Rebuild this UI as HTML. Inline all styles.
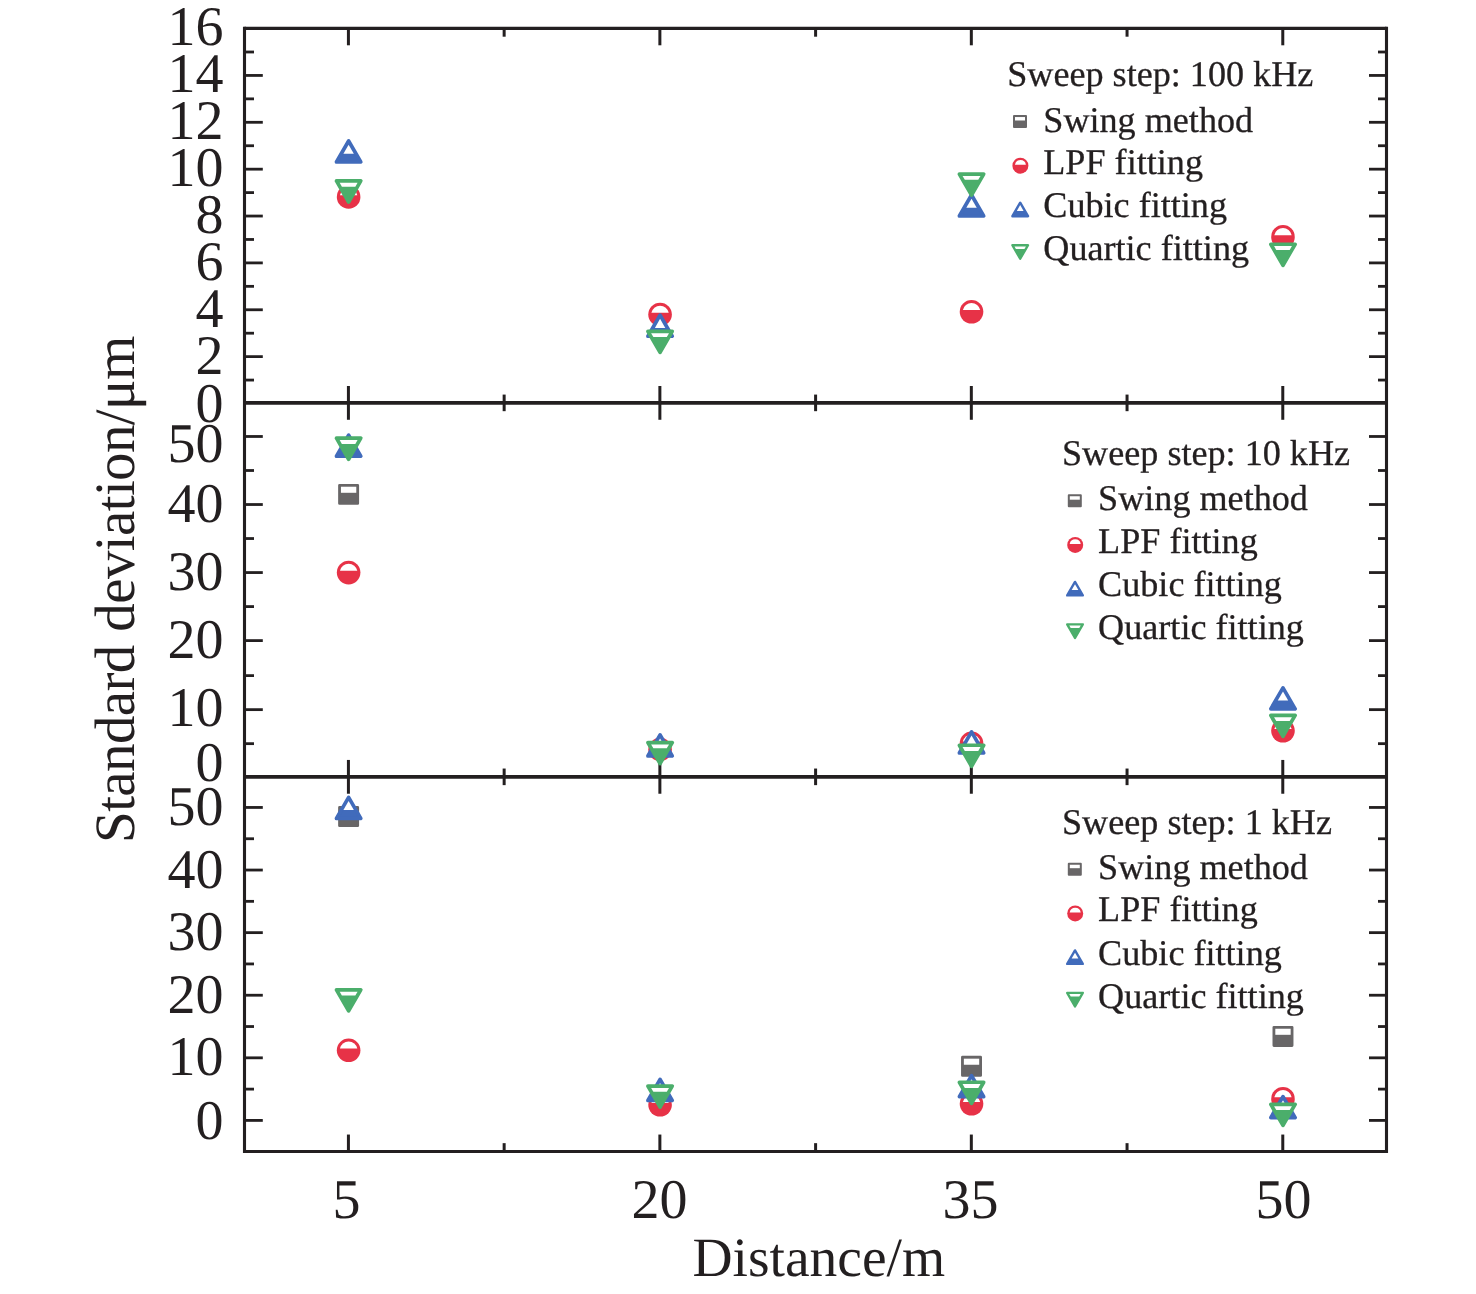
<!DOCTYPE html>
<html lang="en">
<head>
<meta charset="utf-8">
<title>Standard deviation versus distance</title>
<style>
html,body{margin:0;padding:0;background:#fff;}
body{width:1476px;height:1294px;overflow:hidden;}
svg{display:block;will-change:transform;text-rendering:geometricPrecision;font-family:"Liberation Serif",serif;}
.lg{stroke:#231f20;stroke-width:0.3px;stroke-linejoin:round;}
</style>
</head>
<body>
<svg width="1476" height="1294" viewBox="0 0 1476 1294">
<rect width="1476" height="1294" fill="#fff"/>
<g stroke="#231f20" fill="none" stroke-linecap="butt">
<line x1="244.50" y1="26.85" x2="244.50" y2="1153.00" stroke-width="3.1"/>
<line x1="1386.50" y1="26.85" x2="1386.50" y2="1153.00" stroke-width="3.1"/>
<line x1="244.50" y1="28.40" x2="1386.50" y2="28.40" stroke-width="3.1"/>
<line x1="244.50" y1="1151.45" x2="1386.50" y2="1151.45" stroke-width="3.1"/>
<line x1="244.50" y1="402.88" x2="1386.50" y2="402.88" stroke-width="3.92"/>
<line x1="244.50" y1="776.84" x2="1386.50" y2="776.84" stroke-width="3.92"/>
<line x1="348.42" y1="28.40" x2="348.42" y2="45.30" stroke-width="3.0"/>
<line x1="348.42" y1="402.88" x2="348.42" y2="385.98" stroke-width="3.0"/>
<line x1="659.87" y1="28.40" x2="659.87" y2="45.30" stroke-width="3.0"/>
<line x1="659.87" y1="402.88" x2="659.87" y2="385.98" stroke-width="3.0"/>
<line x1="971.33" y1="28.40" x2="971.33" y2="45.30" stroke-width="3.0"/>
<line x1="971.33" y1="402.88" x2="971.33" y2="385.98" stroke-width="3.0"/>
<line x1="1282.78" y1="28.40" x2="1282.78" y2="45.30" stroke-width="3.0"/>
<line x1="1282.78" y1="402.88" x2="1282.78" y2="385.98" stroke-width="3.0"/>
<line x1="504.15" y1="28.40" x2="504.15" y2="36.70" stroke-width="3.0"/>
<line x1="504.15" y1="402.88" x2="504.15" y2="394.58" stroke-width="3.0"/>
<line x1="815.60" y1="28.40" x2="815.60" y2="36.70" stroke-width="3.0"/>
<line x1="815.60" y1="402.88" x2="815.60" y2="394.58" stroke-width="3.0"/>
<line x1="1127.05" y1="28.40" x2="1127.05" y2="36.70" stroke-width="3.0"/>
<line x1="1127.05" y1="402.88" x2="1127.05" y2="394.58" stroke-width="3.0"/>
<line x1="348.42" y1="402.88" x2="348.42" y2="419.78" stroke-width="3.0"/>
<line x1="348.42" y1="776.84" x2="348.42" y2="759.94" stroke-width="3.0"/>
<line x1="659.87" y1="402.88" x2="659.87" y2="419.78" stroke-width="3.0"/>
<line x1="659.87" y1="776.84" x2="659.87" y2="759.94" stroke-width="3.0"/>
<line x1="971.33" y1="402.88" x2="971.33" y2="419.78" stroke-width="3.0"/>
<line x1="971.33" y1="776.84" x2="971.33" y2="759.94" stroke-width="3.0"/>
<line x1="1282.78" y1="402.88" x2="1282.78" y2="419.78" stroke-width="3.0"/>
<line x1="1282.78" y1="776.84" x2="1282.78" y2="759.94" stroke-width="3.0"/>
<line x1="504.15" y1="402.88" x2="504.15" y2="411.18" stroke-width="3.0"/>
<line x1="504.15" y1="776.84" x2="504.15" y2="768.54" stroke-width="3.0"/>
<line x1="815.60" y1="402.88" x2="815.60" y2="411.18" stroke-width="3.0"/>
<line x1="815.60" y1="776.84" x2="815.60" y2="768.54" stroke-width="3.0"/>
<line x1="1127.05" y1="402.88" x2="1127.05" y2="411.18" stroke-width="3.0"/>
<line x1="1127.05" y1="776.84" x2="1127.05" y2="768.54" stroke-width="3.0"/>
<line x1="348.42" y1="776.84" x2="348.42" y2="793.74" stroke-width="3.0"/>
<line x1="348.42" y1="1151.45" x2="348.42" y2="1134.55" stroke-width="3.0"/>
<line x1="659.87" y1="776.84" x2="659.87" y2="793.74" stroke-width="3.0"/>
<line x1="659.87" y1="1151.45" x2="659.87" y2="1134.55" stroke-width="3.0"/>
<line x1="971.33" y1="776.84" x2="971.33" y2="793.74" stroke-width="3.0"/>
<line x1="971.33" y1="1151.45" x2="971.33" y2="1134.55" stroke-width="3.0"/>
<line x1="1282.78" y1="776.84" x2="1282.78" y2="793.74" stroke-width="3.0"/>
<line x1="1282.78" y1="1151.45" x2="1282.78" y2="1134.55" stroke-width="3.0"/>
<line x1="504.15" y1="776.84" x2="504.15" y2="785.14" stroke-width="3.0"/>
<line x1="504.15" y1="1151.45" x2="504.15" y2="1143.15" stroke-width="3.0"/>
<line x1="815.60" y1="776.84" x2="815.60" y2="785.14" stroke-width="3.0"/>
<line x1="815.60" y1="1151.45" x2="815.60" y2="1143.15" stroke-width="3.0"/>
<line x1="1127.05" y1="776.84" x2="1127.05" y2="785.14" stroke-width="3.0"/>
<line x1="1127.05" y1="1151.45" x2="1127.05" y2="1143.15" stroke-width="3.0"/>
<line x1="244.50" y1="356.63" x2="262.80" y2="356.63" stroke-width="2.8"/>
<line x1="1386.50" y1="356.63" x2="1369.00" y2="356.63" stroke-width="2.8"/>
<line x1="244.50" y1="309.77" x2="262.80" y2="309.77" stroke-width="2.8"/>
<line x1="1386.50" y1="309.77" x2="1369.00" y2="309.77" stroke-width="2.8"/>
<line x1="244.50" y1="262.90" x2="262.80" y2="262.90" stroke-width="2.8"/>
<line x1="1386.50" y1="262.90" x2="1369.00" y2="262.90" stroke-width="2.8"/>
<line x1="244.50" y1="216.04" x2="262.80" y2="216.04" stroke-width="2.8"/>
<line x1="1386.50" y1="216.04" x2="1369.00" y2="216.04" stroke-width="2.8"/>
<line x1="244.50" y1="169.17" x2="262.80" y2="169.17" stroke-width="2.8"/>
<line x1="1386.50" y1="169.17" x2="1369.00" y2="169.17" stroke-width="2.8"/>
<line x1="244.50" y1="122.30" x2="262.80" y2="122.30" stroke-width="2.8"/>
<line x1="1386.50" y1="122.30" x2="1369.00" y2="122.30" stroke-width="2.8"/>
<line x1="244.50" y1="75.44" x2="262.80" y2="75.44" stroke-width="2.8"/>
<line x1="1386.50" y1="75.44" x2="1369.00" y2="75.44" stroke-width="2.8"/>
<line x1="244.50" y1="380.07" x2="254.00" y2="380.07" stroke-width="2.8"/>
<line x1="1386.50" y1="380.07" x2="1378.00" y2="380.07" stroke-width="2.8"/>
<line x1="244.50" y1="333.20" x2="254.00" y2="333.20" stroke-width="2.8"/>
<line x1="1386.50" y1="333.20" x2="1378.00" y2="333.20" stroke-width="2.8"/>
<line x1="244.50" y1="286.34" x2="254.00" y2="286.34" stroke-width="2.8"/>
<line x1="1386.50" y1="286.34" x2="1378.00" y2="286.34" stroke-width="2.8"/>
<line x1="244.50" y1="239.47" x2="254.00" y2="239.47" stroke-width="2.8"/>
<line x1="1386.50" y1="239.47" x2="1378.00" y2="239.47" stroke-width="2.8"/>
<line x1="244.50" y1="192.60" x2="254.00" y2="192.60" stroke-width="2.8"/>
<line x1="1386.50" y1="192.60" x2="1378.00" y2="192.60" stroke-width="2.8"/>
<line x1="244.50" y1="145.74" x2="254.00" y2="145.74" stroke-width="2.8"/>
<line x1="1386.50" y1="145.74" x2="1378.00" y2="145.74" stroke-width="2.8"/>
<line x1="244.50" y1="98.87" x2="254.00" y2="98.87" stroke-width="2.8"/>
<line x1="1386.50" y1="98.87" x2="1378.00" y2="98.87" stroke-width="2.8"/>
<line x1="244.50" y1="52.00" x2="254.00" y2="52.00" stroke-width="2.8"/>
<line x1="1386.50" y1="52.00" x2="1378.00" y2="52.00" stroke-width="2.8"/>
<line x1="244.50" y1="709.64" x2="262.80" y2="709.64" stroke-width="2.8"/>
<line x1="1386.50" y1="709.64" x2="1369.00" y2="709.64" stroke-width="2.8"/>
<line x1="244.50" y1="640.60" x2="262.80" y2="640.60" stroke-width="2.8"/>
<line x1="1386.50" y1="640.60" x2="1369.00" y2="640.60" stroke-width="2.8"/>
<line x1="244.50" y1="572.56" x2="262.80" y2="572.56" stroke-width="2.8"/>
<line x1="1386.50" y1="572.56" x2="1369.00" y2="572.56" stroke-width="2.8"/>
<line x1="244.50" y1="504.52" x2="262.80" y2="504.52" stroke-width="2.8"/>
<line x1="1386.50" y1="504.52" x2="1369.00" y2="504.52" stroke-width="2.8"/>
<line x1="244.50" y1="436.48" x2="262.80" y2="436.48" stroke-width="2.8"/>
<line x1="1386.50" y1="436.48" x2="1369.00" y2="436.48" stroke-width="2.8"/>
<line x1="244.50" y1="743.66" x2="254.00" y2="743.66" stroke-width="2.8"/>
<line x1="1386.50" y1="743.66" x2="1378.00" y2="743.66" stroke-width="2.8"/>
<line x1="244.50" y1="675.62" x2="254.00" y2="675.62" stroke-width="2.8"/>
<line x1="1386.50" y1="675.62" x2="1378.00" y2="675.62" stroke-width="2.8"/>
<line x1="244.50" y1="606.58" x2="254.00" y2="606.58" stroke-width="2.8"/>
<line x1="1386.50" y1="606.58" x2="1378.00" y2="606.58" stroke-width="2.8"/>
<line x1="244.50" y1="538.54" x2="254.00" y2="538.54" stroke-width="2.8"/>
<line x1="1386.50" y1="538.54" x2="1378.00" y2="538.54" stroke-width="2.8"/>
<line x1="244.50" y1="470.50" x2="254.00" y2="470.50" stroke-width="2.8"/>
<line x1="1386.50" y1="470.50" x2="1378.00" y2="470.50" stroke-width="2.8"/>
<line x1="244.50" y1="1120.42" x2="262.80" y2="1120.42" stroke-width="2.8"/>
<line x1="1386.50" y1="1120.42" x2="1369.00" y2="1120.42" stroke-width="2.8"/>
<line x1="244.50" y1="1057.83" x2="262.80" y2="1057.83" stroke-width="2.8"/>
<line x1="1386.50" y1="1057.83" x2="1369.00" y2="1057.83" stroke-width="2.8"/>
<line x1="244.50" y1="995.23" x2="262.80" y2="995.23" stroke-width="2.8"/>
<line x1="1386.50" y1="995.23" x2="1369.00" y2="995.23" stroke-width="2.8"/>
<line x1="244.50" y1="932.64" x2="262.80" y2="932.64" stroke-width="2.8"/>
<line x1="1386.50" y1="932.64" x2="1369.00" y2="932.64" stroke-width="2.8"/>
<line x1="244.50" y1="870.04" x2="262.80" y2="870.04" stroke-width="2.8"/>
<line x1="1386.50" y1="870.04" x2="1369.00" y2="870.04" stroke-width="2.8"/>
<line x1="244.50" y1="807.45" x2="262.80" y2="807.45" stroke-width="2.8"/>
<line x1="1386.50" y1="807.45" x2="1369.00" y2="807.45" stroke-width="2.8"/>
<line x1="244.50" y1="1089.12" x2="254.00" y2="1089.12" stroke-width="2.8"/>
<line x1="1386.50" y1="1089.12" x2="1378.00" y2="1089.12" stroke-width="2.8"/>
<line x1="244.50" y1="1026.53" x2="254.00" y2="1026.53" stroke-width="2.8"/>
<line x1="1386.50" y1="1026.53" x2="1378.00" y2="1026.53" stroke-width="2.8"/>
<line x1="244.50" y1="963.94" x2="254.00" y2="963.94" stroke-width="2.8"/>
<line x1="1386.50" y1="963.94" x2="1378.00" y2="963.94" stroke-width="2.8"/>
<line x1="244.50" y1="901.34" x2="254.00" y2="901.34" stroke-width="2.8"/>
<line x1="1386.50" y1="901.34" x2="1378.00" y2="901.34" stroke-width="2.8"/>
<line x1="244.50" y1="838.75" x2="254.00" y2="838.75" stroke-width="2.8"/>
<line x1="1386.50" y1="838.75" x2="1378.00" y2="838.75" stroke-width="2.8"/>
</g>
<g>
<circle cx="348.62" cy="196.90" r="11.80" fill="#e73247"/>
<path d="M339.94,195.15 A8.85,8.85 0 0 1 357.29,195.15 Z" fill="#fff"/>
<circle cx="660.07" cy="314.50" r="11.80" fill="#e73247"/>
<path d="M651.40,312.75 A8.85,8.85 0 0 1 668.75,312.75 Z" fill="#fff"/>
<circle cx="971.53" cy="311.80" r="11.80" fill="#e73247"/>
<path d="M962.85,310.05 A8.85,8.85 0 0 1 980.20,310.05 Z" fill="#fff"/>
<circle cx="1282.98" cy="236.90" r="11.80" fill="#e73247"/>
<path d="M1274.31,235.15 A8.85,8.85 0 0 1 1291.66,235.15 Z" fill="#fff"/>
<polygon points="348.62,140.97 360.77,162.01 336.47,162.01" fill="#416bbb" stroke="#416bbb" stroke-width="3.7" stroke-linejoin="round"/>
<polygon points="348.62,144.67 353.83,153.70 343.40,153.70" fill="#fff"/>
<polygon points="660.07,315.17 672.22,336.21 647.92,336.21" fill="#416bbb" stroke="#416bbb" stroke-width="3.7" stroke-linejoin="round"/>
<polygon points="660.07,318.87 665.29,327.90 654.86,327.90" fill="#fff"/>
<polygon points="971.53,194.97 983.68,216.01 959.38,216.01" fill="#416bbb" stroke="#416bbb" stroke-width="3.7" stroke-linejoin="round"/>
<polygon points="971.53,198.67 976.74,207.70 966.31,207.70" fill="#fff"/>
<polygon points="348.62,201.98 360.77,180.94 336.47,180.94" fill="#4bae6b" stroke="#4bae6b" stroke-width="3.7" stroke-linejoin="round"/>
<polygon points="339.67,182.79 357.56,182.79 355.33,186.65 341.90,186.65" fill="#fff"/>
<polygon points="660.07,352.43 672.22,331.39 647.92,331.39" fill="#4bae6b" stroke="#4bae6b" stroke-width="3.7" stroke-linejoin="round"/>
<polygon points="651.13,333.24 669.02,333.24 666.79,337.10 653.36,337.10" fill="#fff"/>
<polygon points="971.53,195.13 983.68,174.09 959.38,174.09" fill="#4bae6b" stroke="#4bae6b" stroke-width="3.7" stroke-linejoin="round"/>
<polygon points="962.58,175.94 980.47,175.94 978.24,179.80 964.81,179.80" fill="#fff"/>
<polygon points="1282.98,265.28 1295.13,244.24 1270.83,244.24" fill="#4bae6b" stroke="#4bae6b" stroke-width="3.7" stroke-linejoin="round"/>
<polygon points="1274.04,246.09 1291.93,246.09 1289.70,249.95 1276.27,249.95" fill="#fff"/>
<rect x="339.54" y="485.32" width="18.15" height="18.15" fill="#686667" stroke="#686667" stroke-width="2.8" stroke-linejoin="round"/>
<rect x="340.94" y="486.72" width="15.35" height="6.07" fill="#fff"/>
<circle cx="348.62" cy="572.60" r="11.80" fill="#e73247"/>
<path d="M339.94,570.85 A8.85,8.85 0 0 1 357.29,570.85 Z" fill="#fff"/>
<circle cx="660.07" cy="749.50" r="11.80" fill="#e73247"/>
<path d="M651.40,747.75 A8.85,8.85 0 0 1 668.75,747.75 Z" fill="#fff"/>
<circle cx="971.53" cy="743.30" r="11.80" fill="#e73247"/>
<path d="M962.85,741.55 A8.85,8.85 0 0 1 980.20,741.55 Z" fill="#fff"/>
<circle cx="1282.98" cy="730.80" r="11.80" fill="#e73247"/>
<path d="M1274.31,729.05 A8.85,8.85 0 0 1 1291.66,729.05 Z" fill="#fff"/>
<polygon points="348.62,435.17 360.77,456.21 336.47,456.21" fill="#416bbb" stroke="#416bbb" stroke-width="3.7" stroke-linejoin="round"/>
<polygon points="348.62,438.87 353.83,447.90 343.40,447.90" fill="#fff"/>
<polygon points="660.07,734.87 672.22,755.91 647.92,755.91" fill="#416bbb" stroke="#416bbb" stroke-width="3.7" stroke-linejoin="round"/>
<polygon points="660.07,738.57 665.29,747.60 654.86,747.60" fill="#fff"/>
<polygon points="971.53,731.87 983.68,752.91 959.38,752.91" fill="#416bbb" stroke="#416bbb" stroke-width="3.7" stroke-linejoin="round"/>
<polygon points="971.53,735.57 976.74,744.60 966.31,744.60" fill="#fff"/>
<polygon points="1282.98,687.82 1295.13,708.86 1270.83,708.86" fill="#416bbb" stroke="#416bbb" stroke-width="3.7" stroke-linejoin="round"/>
<polygon points="1282.98,691.52 1288.20,700.55 1277.77,700.55" fill="#fff"/>
<polygon points="348.62,459.23 360.77,438.19 336.47,438.19" fill="#4bae6b" stroke="#4bae6b" stroke-width="3.7" stroke-linejoin="round"/>
<polygon points="339.67,440.04 357.56,440.04 355.33,443.90 341.90,443.90" fill="#fff"/>
<polygon points="660.07,763.58 672.22,742.54 647.92,742.54" fill="#4bae6b" stroke="#4bae6b" stroke-width="3.7" stroke-linejoin="round"/>
<polygon points="651.13,744.39 669.02,744.39 666.79,748.25 653.36,748.25" fill="#fff"/>
<polygon points="971.53,766.28 983.68,745.24 959.38,745.24" fill="#4bae6b" stroke="#4bae6b" stroke-width="3.7" stroke-linejoin="round"/>
<polygon points="962.58,747.09 980.47,747.09 978.24,750.95 964.81,750.95" fill="#fff"/>
<polygon points="1282.98,736.43 1295.13,715.39 1270.83,715.39" fill="#4bae6b" stroke="#4bae6b" stroke-width="3.7" stroke-linejoin="round"/>
<polygon points="1274.04,717.24 1291.93,717.24 1289.70,721.10 1276.27,721.10" fill="#fff"/>
<rect x="339.54" y="807.52" width="18.15" height="18.15" fill="#686667" stroke="#686667" stroke-width="2.8" stroke-linejoin="round"/>
<rect x="340.94" y="808.93" width="15.35" height="6.07" fill="#fff"/>
<rect x="962.45" y="1057.27" width="18.15" height="18.15" fill="#686667" stroke="#686667" stroke-width="2.8" stroke-linejoin="round"/>
<rect x="963.85" y="1058.67" width="15.35" height="6.08" fill="#fff"/>
<rect x="1273.91" y="1027.33" width="18.15" height="18.15" fill="#686667" stroke="#686667" stroke-width="2.8" stroke-linejoin="round"/>
<rect x="1275.31" y="1028.73" width="15.35" height="6.08" fill="#fff"/>
<circle cx="348.62" cy="1050.30" r="11.80" fill="#e73247"/>
<path d="M339.94,1048.55 A8.85,8.85 0 0 1 357.29,1048.55 Z" fill="#fff"/>
<circle cx="660.07" cy="1104.80" r="11.80" fill="#e73247"/>
<path d="M651.40,1103.05 A8.85,8.85 0 0 1 668.75,1103.05 Z" fill="#fff"/>
<circle cx="971.53" cy="1103.80" r="11.80" fill="#e73247"/>
<path d="M962.85,1102.05 A8.85,8.85 0 0 1 980.20,1102.05 Z" fill="#fff"/>
<circle cx="1282.98" cy="1098.90" r="11.80" fill="#e73247"/>
<path d="M1274.31,1097.15 A8.85,8.85 0 0 1 1291.66,1097.15 Z" fill="#fff"/>
<polygon points="348.62,797.37 360.77,818.41 336.47,818.41" fill="#416bbb" stroke="#416bbb" stroke-width="3.7" stroke-linejoin="round"/>
<polygon points="348.62,801.07 353.83,810.10 343.40,810.10" fill="#fff"/>
<polygon points="660.07,1079.37 672.22,1100.41 647.92,1100.41" fill="#416bbb" stroke="#416bbb" stroke-width="3.7" stroke-linejoin="round"/>
<polygon points="660.07,1083.07 665.29,1092.10 654.86,1092.10" fill="#fff"/>
<polygon points="971.53,1075.57 983.68,1096.61 959.38,1096.61" fill="#416bbb" stroke="#416bbb" stroke-width="3.7" stroke-linejoin="round"/>
<polygon points="971.53,1079.27 976.74,1088.30 966.31,1088.30" fill="#fff"/>
<polygon points="1282.98,1096.57 1295.13,1117.61 1270.83,1117.61" fill="#416bbb" stroke="#416bbb" stroke-width="3.7" stroke-linejoin="round"/>
<polygon points="1282.98,1100.27 1288.20,1109.30 1277.77,1109.30" fill="#fff"/>
<polygon points="348.62,1010.83 360.77,989.79 336.47,989.79" fill="#4bae6b" stroke="#4bae6b" stroke-width="3.7" stroke-linejoin="round"/>
<polygon points="339.67,991.64 357.56,991.64 355.33,995.50 341.90,995.50" fill="#fff"/>
<polygon points="660.07,1107.08 672.22,1086.04 647.92,1086.04" fill="#4bae6b" stroke="#4bae6b" stroke-width="3.7" stroke-linejoin="round"/>
<polygon points="651.13,1087.89 669.02,1087.89 666.79,1091.75 653.36,1091.75" fill="#fff"/>
<polygon points="971.53,1103.28 983.68,1082.24 959.38,1082.24" fill="#4bae6b" stroke="#4bae6b" stroke-width="3.7" stroke-linejoin="round"/>
<polygon points="962.58,1084.09 980.47,1084.09 978.24,1087.95 964.81,1087.95" fill="#fff"/>
<polygon points="1282.98,1125.43 1295.13,1104.39 1270.83,1104.39" fill="#4bae6b" stroke="#4bae6b" stroke-width="3.7" stroke-linejoin="round"/>
<polygon points="1274.04,1106.24 1291.93,1106.24 1289.70,1110.10 1276.27,1110.10" fill="#fff"/>
</g>
<g font-size="36.15" fill="#231f20">
<text class="lg" x="1007.2" y="86.1">Sweep step: 100 kHz</text>
<text class="lg" x="1043.3" y="131.7">Swing method</text>
<rect x="1014.00" y="116.05" width="12.00" height="10.90" fill="#686667" stroke="#686667" stroke-width="2.0" stroke-linejoin="round"/>
<rect x="1015.00" y="117.05" width="10.00" height="3.45" fill="#fff"/>
<text class="lg" x="1043.3" y="173.7">LPF fitting</text>
<circle cx="1020.40" cy="165.70" r="8.00" fill="#e73247"/>
<path d="M1014.89,164.70 A5.60,5.60 0 0 1 1025.91,164.70 Z" fill="#fff"/>
<text class="lg" x="1043.3" y="217.1">Cubic fitting</text>
<polygon points="1020.20,202.69 1028.00,216.20 1012.40,216.20" fill="#416bbb" stroke="#416bbb" stroke-width="2.4" stroke-linejoin="round"/>
<polygon points="1020.20,205.09 1023.55,210.90 1016.85,210.90" fill="#fff"/>
<text class="lg" x="1043.3" y="260.2">Quartic fitting</text>
<polygon points="1020.20,258.71 1028.00,245.20 1012.40,245.20" fill="#4bae6b" stroke="#4bae6b" stroke-width="2.4" stroke-linejoin="round"/>
<polygon points="1014.48,246.40 1025.92,246.40 1024.48,248.90 1015.92,248.90" fill="#fff"/>
<text class="lg" x="1062.0" y="464.5">Sweep step: 10 kHz</text>
<text class="lg" x="1098.1" y="510.1">Swing method</text>
<rect x="1068.80" y="495.25" width="12.00" height="10.90" fill="#686667" stroke="#686667" stroke-width="2.0" stroke-linejoin="round"/>
<rect x="1069.80" y="496.25" width="10.00" height="3.45" fill="#fff"/>
<text class="lg" x="1098.1" y="552.8">LPF fitting</text>
<circle cx="1075.20" cy="544.90" r="8.00" fill="#e73247"/>
<path d="M1069.69,543.90 A5.60,5.60 0 0 1 1080.71,543.90 Z" fill="#fff"/>
<text class="lg" x="1098.1" y="595.5">Cubic fitting</text>
<polygon points="1075.00,581.89 1082.80,595.40 1067.20,595.40" fill="#416bbb" stroke="#416bbb" stroke-width="2.4" stroke-linejoin="round"/>
<polygon points="1075.00,584.29 1078.35,590.10 1071.65,590.10" fill="#fff"/>
<text class="lg" x="1098.1" y="639.3">Quartic fitting</text>
<polygon points="1075.00,637.91 1082.80,624.40 1067.20,624.40" fill="#4bae6b" stroke="#4bae6b" stroke-width="2.4" stroke-linejoin="round"/>
<polygon points="1069.28,625.60 1080.72,625.60 1079.28,628.10 1070.72,628.10" fill="#fff"/>
<text class="lg" x="1062.0" y="833.8">Sweep step: 1 kHz</text>
<text class="lg" x="1098.1" y="879.4">Swing method</text>
<rect x="1068.80" y="863.75" width="12.00" height="10.90" fill="#686667" stroke="#686667" stroke-width="2.0" stroke-linejoin="round"/>
<rect x="1069.80" y="864.75" width="10.00" height="3.45" fill="#fff"/>
<text class="lg" x="1098.1" y="921.4">LPF fitting</text>
<circle cx="1075.20" cy="913.40" r="8.00" fill="#e73247"/>
<path d="M1069.69,912.40 A5.60,5.60 0 0 1 1080.71,912.40 Z" fill="#fff"/>
<text class="lg" x="1098.1" y="964.8">Cubic fitting</text>
<polygon points="1075.00,950.39 1082.80,963.90 1067.20,963.90" fill="#416bbb" stroke="#416bbb" stroke-width="2.4" stroke-linejoin="round"/>
<polygon points="1075.00,952.79 1078.35,958.60 1071.65,958.60" fill="#fff"/>
<text class="lg" x="1098.1" y="1007.9">Quartic fitting</text>
<polygon points="1075.00,1006.41 1082.80,992.90 1067.20,992.90" fill="#4bae6b" stroke="#4bae6b" stroke-width="2.4" stroke-linejoin="round"/>
<polygon points="1069.28,994.10 1080.72,994.10 1079.28,996.60 1070.72,996.60" fill="#fff"/>
</g>
<g font-size="56" fill="#231f20" text-anchor="end">
<text x="223.6" y="421.5">0</text>
<text x="223.6" y="373.5">2</text>
<text x="223.6" y="326.6">4</text>
<text x="223.6" y="279.7">6</text>
<text x="223.6" y="232.9">8</text>
<text x="223.6" y="186.0">10</text>
<text x="223.6" y="139.1">12</text>
<text x="223.6" y="92.3">14</text>
<text x="223.6" y="45.4">16</text>
<text x="223.6" y="780.7">0</text>
<text x="223.6" y="725.5">10</text>
<text x="223.6" y="657.6">20</text>
<text x="223.6" y="589.6">30</text>
<text x="223.6" y="521.5">40</text>
<text x="223.6" y="462.2">50</text>
<text x="223.6" y="1138.5">0</text>
<text x="223.6" y="1074.8">10</text>
<text x="223.6" y="1012.9">20</text>
<text x="223.6" y="949.6">30</text>
<text x="223.6" y="887.7">40</text>
<text x="223.6" y="824.5">50</text>
</g>
<g font-size="56" fill="#231f20" text-anchor="middle">
<text x="346.5" y="1217.6">5</text>
<text x="659.5" y="1217.6">20</text>
<text x="970.5" y="1217.6">35</text>
<text x="1283.6" y="1217.6">50</text>
</g>
<text x="818.8" y="1275.6" font-size="55.5" fill="#231f20" text-anchor="middle">Distance/m</text>
<text transform="translate(134.0 589.6) rotate(-90)" font-size="57" letter-spacing="-0.62" fill="#231f20" text-anchor="middle">Standard deviation/μm</text>
</svg>
</body>
</html>
